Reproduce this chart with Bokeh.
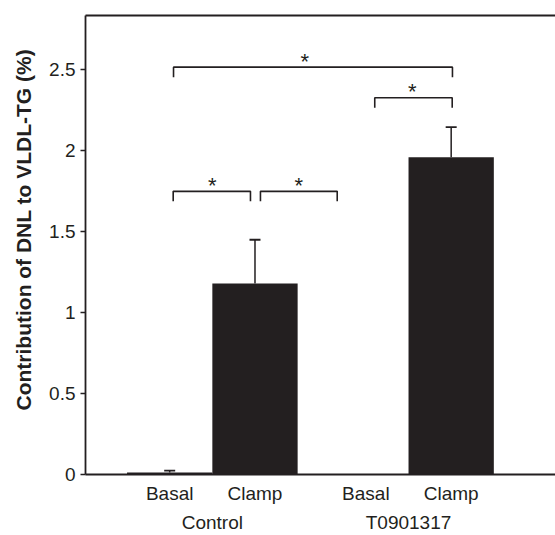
from bokeh.plotting import figure
from bokeh.models import (Range1d, FixedTicker, LinearAxis, Title, Whisker, TeeHead,
                          ColumnDataSource, NumeralTickFormatter)
from bokeh.core.properties import value
from bokeh.embed import file_html
from bokeh.resources import INLINE

# ---- data ----
groups = ["Control", "T0901317"]
conditions = ["Basal", "Clamp"]
means = [0.012, 1.18, 0.0, 1.96]          # Control Basal, Control Clamp, T Basal, T Clamp
sems = [0.012, 0.27, 0.0, 0.185]
y_ticks = [0, 0.5, 1, 1.5, 2, 2.5]
y_label = "Contribution of DNL to VLDL-TG (%)"

# significance brackets (data units): left end, right end, height, star position
brk_x1 = [0.045, 2.404, 0.041, 1.064]
brk_x2 = [3.315, 3.312, 0.947, 1.964]
brk_y = [2.516, 2.327, 1.749, 1.749]
star_x = [1.584, 2.843, 0.498, 1.513]
star_txt = ["*", "*", "*", "*"]

# ---- layout helpers ----
GAP = 0.3
pos = []
sub_labels = []
grp_centers = []
for gi, g in enumerate(groups):
    base = gi * (len(conditions) + GAP)
    for si, c in enumerate(conditions):
        pos.append(base + si)
        sub_labels.append(c)
    grp_centers.append(base + (len(conditions) - 1) / 2)

INK = "#231f20"
FONT = "Liberation Sans"

p = figure(width=555, height=535, x_range=Range1d(-0.987, 4.523), y_range=Range1d(0, 2.835),
           output_backend="svg", toolbar_location=None, title=None, x_axis_location=None,
           min_border_left=85, min_border_right=0, min_border_top=15, min_border_bottom=0)
p.grid.visible = False
p.outline_line_color = None
p.background_fill_color = "white"
p.border_fill_color = "white"

# y axis
ya = p.yaxis[0]
ya.ticker = FixedTicker(ticks=y_ticks)
ya.formatter = NumeralTickFormatter(format="0.[0]")
ya.major_tick_out = 5
ya.major_tick_in = 0
ya.minor_tick_out = 0
ya.minor_tick_in = 0
ya.axis_line_width = 1.8
ya.axis_line_color = INK
ya.major_tick_line_color = INK
ya.major_tick_line_width = 1.5
ya.major_label_text_font = FONT
ya.major_label_text_font_size = "19px"
ya.major_label_text_color = INK
ya.major_label_standoff = 5

p.add_layout(Title(text=y_label, align="left", offset=64, standoff=19, vertical_align="top",
                   text_font=FONT, text_font_size="21px", text_font_style="bold",
                   text_color=INK), "left")

# top frame line
top = LinearAxis(ticker=FixedTicker(ticks=[]), major_tick_out=0, major_tick_in=0,
                 minor_tick_out=0, minor_tick_in=0, major_label_standoff=0,
                 axis_line_color=INK, axis_line_width=1.8)
p.add_layout(top, "above")

# bottom axes
ax1 = LinearAxis(ticker=FixedTicker(ticks=pos),
                 major_label_overrides={x: l for x, l in zip(pos, sub_labels)},
                 major_tick_out=0, major_tick_in=0, minor_tick_out=0, minor_tick_in=0,
                 axis_line_color=INK, axis_line_width=1.8, major_label_standoff=8,
                 major_label_text_font=FONT, major_label_text_font_size="19px",
                 major_label_text_color=INK)
ax2 = LinearAxis(ticker=FixedTicker(ticks=grp_centers),
                 major_label_overrides={x: g for x, g in zip(grp_centers, groups)},
                 major_tick_out=0, major_tick_in=0, minor_tick_out=0, minor_tick_in=0,
                 axis_line_color=None, major_label_standoff=5,
                 major_label_text_font=FONT, major_label_text_font_size="19px",
                 major_label_text_color=INK)
p.add_layout(ax1, "below")
p.add_layout(ax2, "below")

# bars
p.vbar(x=pos, top=means, width=1.0, bottom=0, fill_color=INK, line_color=None)

# error bars (upper only)
eb = [(x, m, m + s) for x, m, s in zip(pos, means, sems) if s > 0]
esrc = ColumnDataSource(dict(x=[e[0] for e in eb], lower=[e[1] for e in eb], upper=[e[2] for e in eb]))
p.add_layout(Whisker(base="x", lower="lower", upper="upper", source=esrc, dimension="height",
                     line_color=INK, line_width=1.5, lower_head=None,
                     upper_head=TeeHead(size=11, line_color=INK, line_width=1.8)))

# significance brackets
DROP = 0.062
xs = [[a, a, b, b] for a, b in zip(brk_x1, brk_x2)]
ys = [[y - DROP, y, y, y - DROP] for y in brk_y]
p.multi_line(xs=xs, ys=ys, line_color=INK, line_width=1.6)
p.text(x=star_x, y=brk_y, text=star_txt, text_align="center", text_baseline="alphabetic",
       y_offset=-6, text_font=value(FONT), text_font_size="22px",
       text_color=INK)

open("out.html", "w").write(file_html(p, INLINE))
